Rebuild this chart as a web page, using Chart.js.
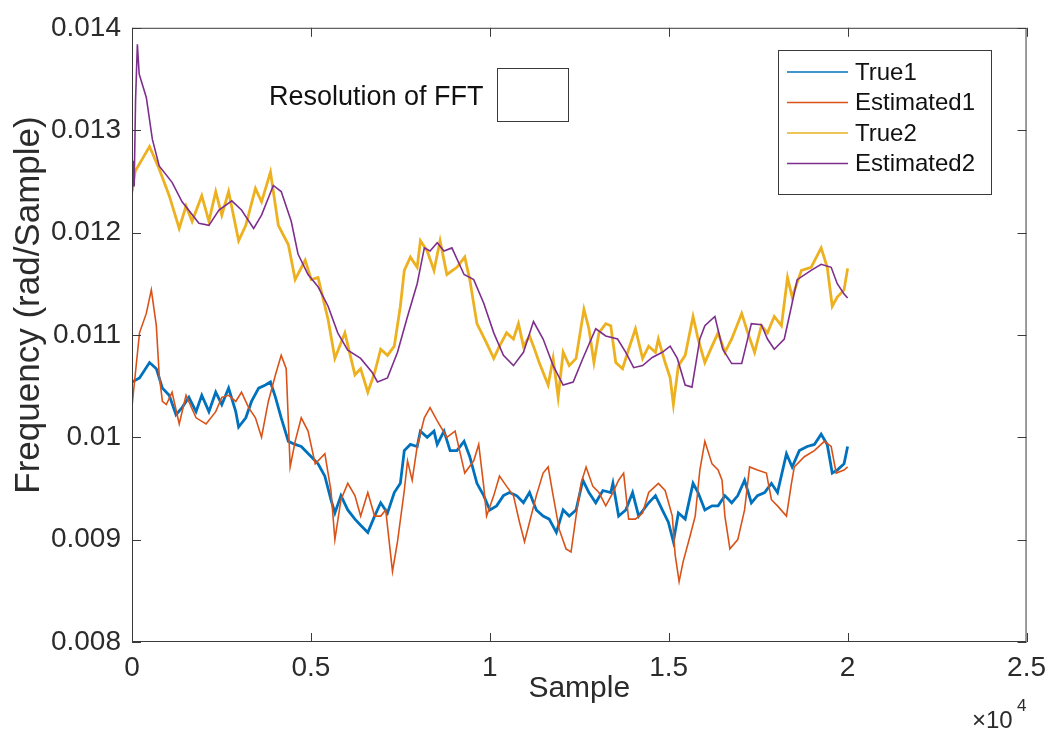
<!DOCTYPE html>
<html>
<head>
<meta charset="utf-8">
<script src="https://cdn.jsdelivr.net/npm/chart.js@4"></script>
<style>
  html, body { margin: 0; padding: 0; background: #fff; }
  #wrap { width: 1055px; height: 733px; }
</style>
</head>
<body>
<div id="wrap"><canvas id="grafico" width="1055" height="733"></canvas></div>
<script>
// nombres de las series (orden de la leyenda)
const seriesNames = ['True1', 'Estimated1', 'True2', 'Estimated2'];
const seriesColors = ['#0072BD', '#D95319', '#EDB120', '#7E2F8E'];

// etiquetas de los ejes
const xTickValues = [0, 5000, 10000, 15000, 20000, 25000];
const xTickLabels = ['0', '0.5', '1', '1.5', '2', '2.5'];
const yTickValues = [0.008, 0.009, 0.010, 0.011, 0.012, 0.013, 0.014];
const yTickLabels = ['0.008', '0.009', '0.01', '0.011', '0.012', '0.013', '0.014'];

// True1
const sampleTrue1 = [0,210,490,680,850,1040,1230,1400,1590,1790,1950,2150,2340,2510,2700,2900,2980,3180,3340,3540,3730,3870,4010,4170,4370,4560,4730,5010,5200,5390,5560,5670,5840,6030,6230,6390,6590,6780,6950,7140,7330,7500,7610,7780,7970,8060,8250,8440,8530,8720,8890,9080,9280,9440,9640,9830,10000,10190,10380,10550,10750,10940,11110,11300,11490,11660,11860,12050,12220,12410,12600,12770,12960,13160,13380,13440,13600,13800,13990,14160,14440,14630,14820,14990,15130,15270,15460,15680,15820,16010,16210,16380,16570,16760,16930,17120,17310,17480,17680,17870,18040,18290,18450,18650,18870,19070,19260,19430,19570,19710,19900,20000];
const freqTrue1 = [0.01054,0.01058,0.01073,0.01067,0.01048,0.01041,0.01022,0.01029,0.01039,0.01025,0.01041,0.01025,0.01044,0.01032,0.01048,0.01025,0.01010,0.01019,0.01035,0.01048,0.01051,0.01054,0.01039,0.01019,0.00996,0.00993,0.00991,0.00981,0.00974,0.00962,0.00939,0.00926,0.00943,0.00929,0.00920,0.00914,0.00907,0.00923,0.00936,0.00926,0.00946,0.00955,0.00987,0.00993,0.00991,0.01006,0.01000,0.01006,0.00993,0.01006,0.00987,0.00987,0.00996,0.00981,0.00955,0.00943,0.00929,0.00933,0.00943,0.00946,0.00943,0.00936,0.00946,0.00929,0.00923,0.00920,0.00907,0.00929,0.00923,0.00929,0.00958,0.00946,0.00936,0.00948,0.00946,0.00955,0.00923,0.00929,0.00946,0.00923,0.00936,0.00943,0.00929,0.00917,0.00898,0.00926,0.00920,0.00955,0.00946,0.00929,0.00933,0.00933,0.00943,0.00936,0.00943,0.00958,0.00936,0.00943,0.00946,0.00955,0.00946,0.00984,0.00971,0.00987,0.00991,0.00993,0.01003,0.00993,0.00965,0.00968,0.00974,0.00991];

// Estimated1
const sampleEst1 = [0,40,210,400,540,680,760,850,960,1120,1320,1510,1790,2070,2340,2510,2700,2900,3060,3260,3450,3620,3810,4010,4170,4310,4420,4560,4730,4920,5120,5390,5560,5670,5840,6030,6230,6390,6590,6780,6950,7090,7280,7420,7610,7700,7830,7970,8170,8330,8530,8800,9030,9300,9550,9690,9830,9910,10110,10270,10470,10660,10830,10970,11110,11300,11490,11630,11770,11940,12130,12270,12410,12550,12690,12880,13050,13240,13440,13600,13740,13880,14070,14270,14440,14710,14900,15100,15180,15290,15400,15600,15740,15870,16010,16210,16380,16490,16570,16710,16930,17120,17260,17480,17730,17870,18040,18290,18430,18510,18790,19070,19350,19540,19680,19900,20000];
const freqEst1 = [0.01030,0.01044,0.01102,0.01121,0.01144,0.01109,0.01061,0.01035,0.01032,0.01044,0.01013,0.01041,0.01019,0.01013,0.01025,0.01039,0.01041,0.01035,0.01044,0.01029,0.01019,0.01000,0.01035,0.01061,0.01080,0.01067,0.00971,0.00996,0.01019,0.01006,0.00974,0.00984,0.00948,0.00900,0.00939,0.00955,0.00943,0.00923,0.00946,0.00923,0.00923,0.00929,0.00869,0.00898,0.00948,0.00977,0.00958,0.00991,0.01019,0.01029,0.01016,0.01000,0.01006,0.00965,0.00977,0.00993,0.00952,0.00923,0.00943,0.00962,0.00952,0.00943,0.00917,0.00898,0.00917,0.00943,0.00965,0.00971,0.00943,0.00910,0.00891,0.00888,0.00923,0.00955,0.00971,0.00952,0.00946,0.00933,0.00946,0.00958,0.00965,0.00920,0.00920,0.00926,0.00946,0.00955,0.00948,0.00923,0.00885,0.00859,0.00878,0.00904,0.00923,0.00968,0.00996,0.00974,0.00968,0.00958,0.00923,0.00891,0.00900,0.00929,0.00971,0.00968,0.00965,0.00939,0.00933,0.00923,0.00955,0.00971,0.00981,0.00987,0.00996,0.00991,0.00965,0.00968,0.00971];

// True2
const sampleTrue2 = [0,90,490,760,1040,1320,1510,1680,1950,2150,2340,2510,2700,2980,3180,3450,3620,3870,4090,4370,4560,4840,5010,5200,5480,5670,5950,6230,6390,6590,6780,6950,7140,7330,7500,7610,7780,7970,8060,8250,8440,8610,8800,9080,9300,9440,9640,9910,10110,10270,10470,10660,10800,10940,11110,11220,11380,11630,11770,11910,12050,12220,12410,12630,12770,12910,13050,13240,13380,13520,13710,13880,14070,14270,14440,14630,14710,14900,15040,15130,15270,15460,15680,15820,16010,16210,16380,16570,16760,17040,17210,17400,17590,17760,17950,18150,18320,18450,18710,18980,19260,19430,19570,19710,19900,20000];
const freqTrue2 = [0.01240,0.01260,0.01284,0.01262,0.01236,0.01204,0.01226,0.01211,0.01236,0.01211,0.01240,0.01217,0.01240,0.01192,0.01207,0.01243,0.01230,0.01259,0.01207,0.01188,0.01154,0.01173,0.01154,0.01156,0.01115,0.01077,0.01102,0.01061,0.01067,0.01044,0.01063,0.01086,0.01080,0.01089,0.01128,0.01163,0.01176,0.01166,0.01192,0.01182,0.01163,0.01192,0.01159,0.01166,0.01176,0.01154,0.01111,0.01092,0.01077,0.01089,0.01102,0.01096,0.01111,0.01089,0.01099,0.01089,0.01073,0.01051,0.01077,0.01039,0.01083,0.01070,0.01077,0.01125,0.01106,0.01073,0.01102,0.01111,0.01109,0.01073,0.01067,0.01086,0.01106,0.01077,0.01089,0.01083,0.01096,0.01073,0.01058,0.01032,0.01070,0.01080,0.01118,0.01096,0.01073,0.01089,0.01102,0.01083,0.01096,0.01121,0.01102,0.01083,0.01109,0.01102,0.01118,0.01109,0.01156,0.01137,0.01163,0.01166,0.01185,0.01166,0.01128,0.01137,0.01144,0.01165];

// Estimated2
const sampleEst2 = [0,30,60,100,150,200,260,400,570,760,1120,1400,1870,2150,2430,2790,3060,3400,3620,3950,4170,4450,4640,4920,5200,5480,5750,6030,6390,6720,6860,7140,7420,7700,7970,8170,8330,8530,8720,8940,9280,9550,9830,10110,10380,10660,10940,11220,11490,11770,12050,12330,12600,12960,13240,13570,13800,14020,14270,14540,14820,15040,15240,15460,15650,15870,16010,16290,16510,16760,17040,17310,17590,17760,17950,18230,18430,18590,18980,19260,19540,19710,19900,20000];
const freqEst2 = [0.01228,0.01270,0.01245,0.01330,0.01384,0.01355,0.01348,0.01332,0.01291,0.01265,0.01249,0.01230,0.01209,0.01207,0.01222,0.01231,0.01222,0.01204,0.01217,0.01246,0.01240,0.01211,0.01179,0.01159,0.01147,0.01128,0.01102,0.01085,0.01077,0.01063,0.01054,0.01058,0.01083,0.01118,0.01150,0.01185,0.01182,0.01190,0.01182,0.01185,0.01159,0.01154,0.01131,0.01102,0.01080,0.01070,0.01083,0.01113,0.01096,0.01070,0.01051,0.01054,0.01077,0.01106,0.01099,0.01096,0.01083,0.01068,0.01070,0.01078,0.01083,0.01089,0.01077,0.01051,0.01049,0.01096,0.01109,0.01118,0.01086,0.01072,0.01072,0.01111,0.01110,0.01096,0.01086,0.01096,0.01128,0.01154,0.01163,0.01169,0.01166,0.01150,0.01140,0.01136];

const TEXTO = '#2b2b2b';
Chart.defaults.font.family = '"Liberation Sans", Arial, sans-serif';
Chart.defaults.color = TEXTO;

function puntos(xs, ys) {
    return xs.map((x, i) => ({ x: x, y: ys[i] }));
}

const series = [
    { xs: sampleTrue1, ys: freqTrue1, ancho: 2.8 },
    { xs: sampleEst1, ys: freqEst1, ancho: 1.6 },
    { xs: sampleTrue2, ys: freqTrue2, ancho: 2.8 },
    { xs: sampleEst2, ys: freqEst2, ancho: 1.6 }
];

// Marco, marcas hacia dentro, leyenda, anotación, título Y y exponente
const marco = {
    id: 'marco',
    afterDraw(chart) {
        const { ctx, chartArea: a, scales: { x, y } } = chart;
        ctx.save();
        ctx.strokeStyle = '#3a3a3a';
        ctx.lineWidth = 1;
        ctx.strokeRect(a.left + 0.5, a.top + 0.5, a.right - a.left - 1, a.bottom - a.top - 1);

        ctx.beginPath();
        x.ticks.forEach(t => {
            const px = Math.round(x.getPixelForValue(t.value)) + 0.5;
            ctx.moveTo(px, a.bottom); ctx.lineTo(px, a.bottom - 9);
            ctx.moveTo(px, a.top); ctx.lineTo(px, a.top + 9);
        });
        y.ticks.forEach(t => {
            const py = Math.round(y.getPixelForValue(t.value)) + 0.5;
            ctx.moveTo(a.left, py); ctx.lineTo(a.left + 9, py);
            ctx.moveTo(a.right, py); ctx.lineTo(a.right - 9, py);
        });
        ctx.stroke();

        // leyenda
        ctx.fillStyle = '#fff';
        ctx.fillRect(778, 50, 213, 144);
        ctx.strokeRect(778.5, 50.5, 213, 144);
        ctx.font = '24px "Liberation Sans", Arial, sans-serif';
        ctx.textBaseline = 'middle';
        ctx.textAlign = 'left';
        chart.data.datasets.forEach((ds, i) => {
            const ly = 72 + i * 30.5;
            ctx.strokeStyle = ds.borderColor;
            ctx.lineWidth = 1.3;
            ctx.beginPath();
            ctx.moveTo(787, ly); ctx.lineTo(848, ly);
            ctx.stroke();
            ctx.fillStyle = '#111';
            ctx.fillText(ds.label, 855, ly + 1);
        });

        // anotación
        ctx.strokeStyle = '#3a3a3a';
        ctx.lineWidth = 1;
        ctx.font = '27px "Liberation Sans", Arial, sans-serif';
        ctx.fillStyle = '#111';
        ctx.fillText('Resolution of FFT', 269, 98);
        ctx.strokeRect(497.5, 68.5, 71, 53);

        // título del eje Y
        ctx.save();
        ctx.translate(29, 305);
        ctx.rotate(-Math.PI / 2);
        ctx.textAlign = 'center';
        ctx.fillStyle = TEXTO;
        ctx.font = '35px "Liberation Sans", Arial, sans-serif';
        ctx.fillText('Frequency (rad/Sample)', 0, 0);
        ctx.restore();

        // ×10^4
        ctx.fillStyle = TEXTO;
        ctx.textBaseline = 'alphabetic';
        ctx.font = '24px "Liberation Sans", Arial, sans-serif';
        ctx.fillText('\u00d710', 972, 728);
        ctx.font = '17px "Liberation Sans", Arial, sans-serif';
        ctx.fillText('4', 1017, 711);
        ctx.restore();
    }
};

new Chart(document.getElementById('grafico'), {
    type: 'line',
    data: {
        datasets: series.map((s, i) => ({
            label: seriesNames[i],
            data: puntos(s.xs, s.ys),
            borderColor: seriesColors[i],
            backgroundColor: seriesColors[i],
            borderWidth: s.ancho,
            pointRadius: 0,
            tension: 0,
            fill: false,
            order: 4 - i
        }))
    },
    options: {
        responsive: false,
        animation: false,
        events: [],
        layout: { padding: { top: 16, right: 21, left: 0, bottom: 0 } },
        plugins: { legend: { display: false }, tooltip: { enabled: false } },
        scales: {
            x: {
                type: 'linear',
                min: 0,
                max: 25000,
                afterBuildTicks: s => { s.ticks = xTickValues.map(v => ({ value: v })); },
                afterFit: s => { s.height = 91; },
                grid: { display: false, drawTicks: false },
                border: { display: false },
                ticks: {
                    padding: 9,
                    font: { size: 28 },
                    color: TEXTO,
                    callback: (v, i) => xTickLabels[i]
                },
                title: { display: true, text: 'Sample', font: { size: 30 }, color: TEXTO, padding: { top: 0, bottom: 26 } }
            },
            y: {
                min: 0.008,
                max: 0.014,
                afterBuildTicks: s => { s.ticks = yTickValues.map(v => ({ value: v })); },
                afterFit: s => { s.width = 132; },
                grid: { display: false, drawTicks: false },
                border: { display: false },
                ticks: {
                    padding: 11,
                    font: { size: 28 },
                    color: TEXTO,
                    callback: (v, i) => yTickLabels[i]
                },
                title: { display: false }
            }
        }
    },
    plugins: [marco]
});
</script>
</body>
</html>
